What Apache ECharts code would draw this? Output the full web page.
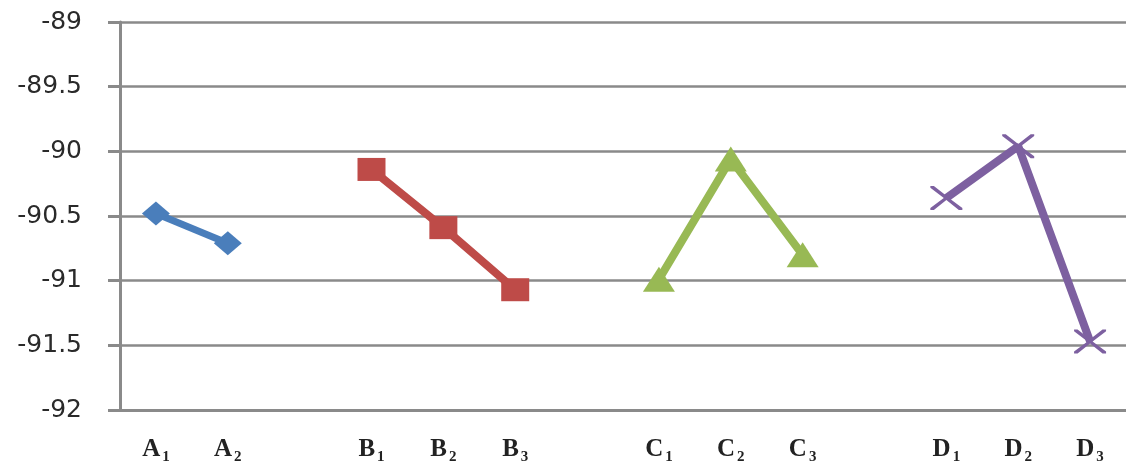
<!DOCTYPE html>
<html>
<head>
<meta charset="utf-8">
<script src="https://cdn.jsdelivr.net/npm/echarts@6/dist/echarts.min.js"></script>
<style>html,body{margin:0;padding:0;background:#fff;}#c{width:1126px;height:465px;}</style>
</head>
<body>
<div id="c"></div>
<script>
// categories (empty strings are the gaps between factor groups)
const categories = ['A1','A2','','B1','B2','B3','','C1','C2','C3','','D1','D2','D3'];
const yTicks = [-92, -91.5, -91, -90.5, -90, -89.5, -89];
const aCats = ['A1','A2'];
const aValues = [-90.48, -90.71];
const bCats = ['B1','B2','B3'];
const bValues = [-90.14, -90.59, -91.07];
const cCats = ['C1','C2','C3'];
const cValues = [-90.99, -90.06, -90.80];
const dCats = ['D1','D2','D3'];
const dValues = [-90.36, -89.96, -91.47];

function build(cats, vals) {
  return categories.map(c => {
    const i = cats.indexOf(c);
    return i >= 0 ? vals[i] : null;
  });
}
const crossPath = 'path://M0,0 L2.2,0 L10,8.2 L17.8,0 L20,0 L20,1.6 L11.6,10 L20,18.4 L20,20 L17.8,20 L10,11.8 L2.2,20 L0,20 L0,18.4 L8.4,10 L0,1.6 Z';

const chart = echarts.init(document.getElementById('c'), null, {renderer: 'canvas'});
const gridColor = '#8a8a8a';
chart.setOption({
  animation: false,
  backgroundColor: '#fff',
  grid: {left: 120, right: 0, top: 22, bottom: 55, containLabel: false, outerBoundsMode: 'none'},
  xAxis: {
    type: 'category',
    data: categories,
    boundaryGap: true,
    axisLine: {show: true, lineStyle: {color: gridColor, width: 3}},
    axisTick: {show: false},
    splitLine: {show: false},
    axisLabel: {
      interval: 0,
      margin: 27,
      formatter: v => v ? '{b|' + v.charAt(0) + '}{s|' + v.slice(1) + '}' : '',
      rich: {
        b: {fontFamily: 'Liberation Serif', fontWeight: 'bold', fontSize: 25, color: '#222'},
        s: {fontFamily: 'Liberation Serif', fontWeight: 'bold', fontSize: 15, color: '#222', verticalAlign: 'bottom', padding: [0,0,-3,2]}
      }
    }
  },
  yAxis: {
    type: 'value',
    min: yTicks[0],
    max: yTicks[yTicks.length - 1],
    interval: 0.5,
    axisLine: {show: true, lineStyle: {color: gridColor, width: 3}},
    axisTick: {show: true, inside: false, length: 12, lineStyle: {color: gridColor, width: 3}},
    splitLine: {show: true, lineStyle: {color: gridColor, width: 2.5}},
    axisLabel: {
      margin: 38,
      fontFamily: 'DejaVu Sans',
      fontSize: 25,
      color: '#2a2a2a'
    }
  },
  series: [
    {
      type: 'line', data: build(aCats, aValues), connectNulls: false,
      symbol: 'diamond', symbolSize: [28, 24],
      itemStyle: {color: '#4a7ebb'},
      lineStyle: {color: '#4a7ebb', width: 7}
    },
    {
      type: 'line', data: build(bCats, bValues),
      symbol: 'rect', symbolSize: [28, 23],
      itemStyle: {color: '#be4b48'},
      lineStyle: {color: '#be4b48', width: 8}
    },
    {
      type: 'line', data: build(cCats, cValues),
      symbol: 'triangle', symbolSize: [32, 25],
      itemStyle: {color: '#98b954'},
      lineStyle: {color: '#98b954', width: 8}
    },
    {
      type: 'line', data: build(dCats, dValues),
      symbol: crossPath, symbolSize: [32, 24], symbolKeepAspect: false,
      itemStyle: {color: '#7d60a0'},
      lineStyle: {color: '#7d60a0', width: 8}
    }
  ]
});
</script>
</body>
</html>
